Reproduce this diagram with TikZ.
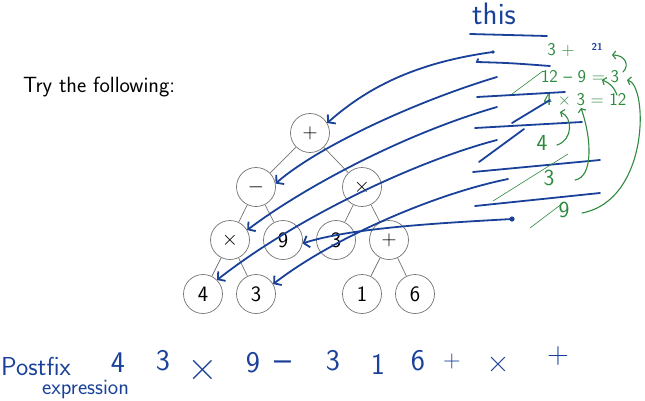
\documentclass[tikz,border=0pt]{standalone}
\usepackage{fontspec}
\usepackage{tikz}
\usetikzlibrary{arrows.meta}
\definecolor{inkblue}{HTML}{1A4199}
\definecolor{inkgreen}{HTML}{2E8B3E}
\tikzset{
  slidenode/.style={circle, draw=black!55, line width=0.7pt,
    minimum size=39pt, inner sep=0pt, font=\fontsize{22}{24}\selectfont\sffamily},
  slideedge/.style={draw=black!55, line width=0.7pt},
  inkarrow/.style={-{Straight Barb[length=5pt,width=12pt]}, line width=1.8pt,
    draw=inkblue, line cap=round, line join=round},
  inkstroke/.style={line width=1.8pt, draw=inkblue, line cap=round},
  inkthin/.style={line width=0.6pt, draw=inkgreen, line cap=round},
  inkgreenarrow/.style={-{Straight Barb[length=3pt,width=8pt]}, line width=1.1pt,
    draw=inkgreen, line cap=round, line join=round},
  inktext/.style={text=inkblue, inner sep=0pt,
    font=\fontsize{30}{30}\selectfont\sffamily},
  inkgreentext/.style={text=inkgreen, inner sep=0pt,
    font=\fontsize{18}{18}\selectfont\sffamily}
}
\begin{document}
\begin{tikzpicture}[x=1pt, y=-1pt]
  \useasboundingbox (0,0) rectangle (645,400);

  \node[font=\fontsize{22}{24}\selectfont\sffamily, anchor=base west,
    inner sep=0pt] (tryit) at (23,92) {Try the following:};

  \node[slidenode] (plusroot) at (310,133) {$+$};
  \node[slidenode] (minus) at (256,187) {$-$};
  \node[slidenode] (timesr) at (362,187) {$\times$};
  \node[slidenode] (timesl) at (230,240) {$\times$};
  \node[slidenode] (nine) at (283,240) {9};
  \node[slidenode] (threer) at (336,240) {3};
  \node[slidenode] (plusr) at (389,240) {$+$};
  \node[slidenode] (four) at (203,294) {4};
  \node[slidenode] (threel) at (256,294) {3};
  \node[slidenode] (one) at (362,294) {1};
  \node[slidenode] (six) at (415,294) {6};

  \draw[slideedge] (plusroot) -- (minus);
  \draw[slideedge] (plusroot) -- (timesr);
  \draw[slideedge] (minus) -- (timesl);
  \draw[slideedge] (minus) -- (nine);
  \draw[slideedge] (timesr) -- (threer);
  \draw[slideedge] (timesr) -- (plusr);
  \draw[slideedge] (timesl) -- (four);
  \draw[slideedge] (timesl) -- (threel);
  \draw[slideedge] (plusr) -- (one);
  \draw[slideedge] (plusr) -- (six);

  \node[inktext, font=\fontsize{31}{31}\selectfont\sffamily, anchor=base west]
    (this) at (472,24) {this};
  \coordinate (thisa) at (470,34);
  \coordinate (thisb) at (547,36);
  \draw[inkstroke] (thisa) -- (thisb);

  \node[inkgreentext] (gsum) at (561,50) {3 +};
  \node[text=inkblue, inner sep=0pt, font=\fontsize{10}{10}\selectfont\sffamily\bfseries]
    (twentyone) at (597,47) {21};
  \node[inkgreentext] (gdiff) at (580,77) {12 -- 9 = 3};
  \node[inkgreentext] (gprod) at (585,100) {4 × 3 = 12};
  \node[inkgreentext, font=\fontsize{23}{23}\selectfont\sffamily] (gfour) at (542,143) {4};
  \node[inkgreentext, font=\fontsize{23}{23}\selectfont\sffamily] (gthree) at (549,178) {3};
  \node[inkgreentext, font=\fontsize{23}{23}\selectfont\sffamily] (gnine) at (564,210) {9};

  \coordinate (tailroot) at (493,52);
  \coordinate (tailminus) at (497,77);
  \coordinate (tailtimes) at (497,107);
  \coordinate (tailfour) at (497,140);
  \coordinate (tailthree) at (508,179);
  \coordinate (tailnine) at (512,219);

  \draw[inkarrow] (tailroot) .. controls (420,62) and (370,85) .. (plusroot.30);
  \draw[inkarrow] (tailminus) .. controls (420,100) and (320,145) .. (minus.10);
  \draw[inkarrow] (tailtimes) .. controls (400,135) and (300,190) .. (timesl.30);
  \draw[inkarrow] (tailfour) .. controls (420,160) and (300,215) .. (four.45);
  \draw[inkarrow] (tailthree) .. controls (430,195) and (330,240) .. (threel.30);
  \draw[inkarrow] (tailnine) .. controls (440,223) and (350,228) .. (nine.-10);
  \fill[inkblue] (tailnine) circle (2.6pt);
  \fill[inkblue] (tailroot) circle (1.8pt);

  \draw[inkstroke] (478,59) -- (477,62) .. controls (510,63) .. (550,66);
  \draw[inkstroke] (477,97) -- (565,92);
  \draw[inkstroke] (475,128) -- (582,122);
  \draw[inkstroke] (473,172) -- (600,160);
  \draw[inkstroke] (475,206) -- (600,193);
  \draw[inkstroke] (512,123) -- (550,100);
  \draw[inkstroke] (479,162) -- (524,129);

  \draw[inkthin] (512,94) -- (543,71);
  \draw[inkthin] (493,201) -- (568,154);
  \draw[inkthin] (530,228) -- (563,203);

  \coordinate (fourtail) at (557,145);
  \coordinate (fourhead) at (560,112);
  \coordinate (threetail) at (575,180);
  \coordinate (threehead) at (581,108);
  \coordinate (prodtail) at (617,95);
  \coordinate (prodhead) at (602,80);
  \coordinate (difftail) at (623,72);
  \coordinate (diffhead) at (612,55);
  \coordinate (ninetail) at (582,213);
  \coordinate (ninehead) at (627,80);

  \draw[inkgreenarrow] (fourtail) .. controls (573,140) and (573,117) .. (fourhead);
  \draw[inkgreenarrow] (threetail) .. controls (593,177) and (592,140) .. (threehead);
  \draw[inkgreenarrow] (prodtail) .. controls (614,87) and (610,83) .. (prodhead);
  \draw[inkgreenarrow] (difftail) .. controls (630,65) and (625,55) .. (diffhead);
  \draw[inkgreenarrow] (ninetail) .. controls (650,200) and (648,85) .. (ninehead);

  \node[inktext, font=\fontsize{26}{26}\selectfont\sffamily, anchor=base west]
    (postfix) at (1,375) {Postfix};
  \node[inktext, font=\fontsize{22}{22}\selectfont\sffamily, anchor=base west]
    (expression) at (42,394) {expression};
  \node[inktext] (pfa) at (118,363) {4};
  \node[inktext] (pfb) at (163,361) {3};
  \node[inktext, font=\fontsize{42}{42}\selectfont\sffamily] (pfc) at (203,370) {×};
  \node[inktext] (pfd) at (253,363) {9};
  \node[inktext, font=\fontsize{36}{36}\selectfont\sffamily] (pfe) at (283,366) {--};
  \node[inktext] (pff) at (333,361) {3};
  \node[inktext] (pfg) at (378,364) {1};
  \node[inktext] (pfh) at (418,361) {6};
  \node[inktext, font=\fontsize{24}{24}\selectfont\sffamily] (pfi) at (452,362) {+};
  \node[inktext, font=\fontsize{32}{32}\selectfont\sffamily] (pfj) at (498,365) {×};
  \node[inktext] (pfk) at (558,356) {+};
\end{tikzpicture}
\end{document}
